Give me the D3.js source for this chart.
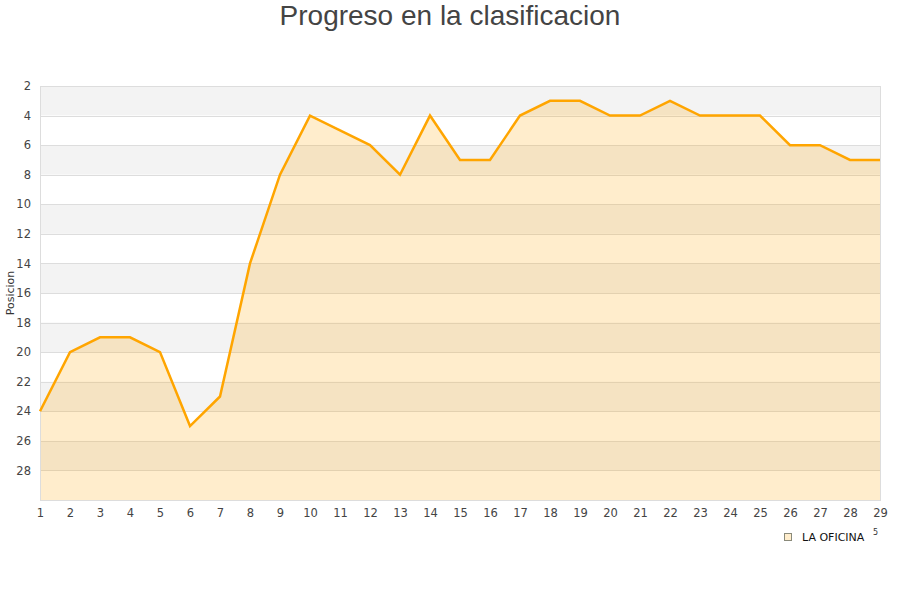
<!DOCTYPE html>
<html><head><meta charset="utf-8">
<script src="https://cdn.jsdelivr.net/npm/d3@7"></script>
<style>body{margin:0;background:#fff}svg{display:block}</style>
</head><body>
<svg id="c" width="900" height="600"></svg>
<script>
const jornadas = [1,2,3,4,5,6,7,8,9,10,11,12,13,14,15,16,17,18,19,20,21,22,23,24,25,26,27,28,29];
const posiciones = [24,20,19,19,20,25,23,14,8,4,5,6,8,4,7,7,4,3,3,4,4,3,4,4,4,6,6,7,7];
const yTicks = [2,4,6,8,10,12,14,16,18,20,22,24,26,28];
const serieNombre = "LA OFICINA";
const titulo = "Progreso en la clasificacion";
const yLabel = "Posicion";

const svg = d3.select("#c");
const m = {l:40, r:880, t:86, b:500};
const x = d3.scaleLinear().domain([1,29]).range([m.l, m.r]);
const y = d3.scaleLinear().domain([2,30]).range([m.t, m.b]);

// bands
const bandStarts = d3.range(2, 30, 2);
svg.append("g").selectAll("rect").data(bandStarts).join("rect")
  .attr("x", m.l).attr("width", m.r - m.l)
  .attr("y", d => y(d)).attr("height", d => y(d+2) - y(d))
  .attr("fill", (d,i) => i % 2 === 0 ? "#f3f3f3" : "#ffffff");

// gridlines
svg.append("g").selectAll("line").data(d3.range(2, 31, 2)).join("line")
  .attr("x1", m.l).attr("x2", m.r)
  .attr("y1", d => Math.round(y(d)) + 0.5).attr("y2", d => Math.round(y(d)) + 0.5)
  .attr("stroke", "#dddddd").attr("stroke-width", 1);

// area
const area = d3.area().x((d,i) => x(jornadas[i])).y0(y(30)).y1(d => y(d));
svg.append("path").datum(posiciones).attr("d", area)
  .attr("fill", "rgba(255,165,0,0.2)");

// border
svg.append("rect").attr("x", m.l + 0.5).attr("y", m.t + 0.5)
  .attr("width", m.r - m.l).attr("height", m.b - m.t)
  .attr("fill", "none").attr("stroke", "#dddddd");

// line
const line = d3.line().x((d,i) => x(jornadas[i])).y(d => y(d));
svg.append("path").datum(posiciones).attr("d", line)
  .attr("fill", "none").attr("stroke", "#ffa500").attr("stroke-width", 2.5)
  .attr("stroke-linejoin", "miter");

// y axis
const yAxis = d3.axisLeft(y).tickValues(yTicks).tickSize(0).tickPadding(9);
const gy = svg.append("g").attr("transform", `translate(${m.l},0)`).call(yAxis);
gy.select(".domain").remove();
gy.selectAll("text").attr("font-family", "DejaVu Sans").attr("font-size", 11.5).attr("fill", "#444");

// x axis
const xAxis = d3.axisBottom(x).tickValues(jornadas).tickSize(0).tickPadding(9).tickFormat(d3.format("d"));
const gx = svg.append("g").attr("transform", `translate(0,${m.b})`).call(xAxis);
gx.select(".domain").remove();
gx.selectAll("text").attr("font-family", "DejaVu Sans").attr("font-size", 11.5).attr("fill", "#444");

// title
svg.append("text").attr("x", 450).attr("y", 25).attr("text-anchor", "middle")
  .attr("font-family", "Liberation Sans, Arial, sans-serif").attr("font-size", 28)
  .attr("fill", "#444").text(titulo);

// y label
svg.append("text").attr("transform", "translate(14,293) rotate(-90)")
  .attr("text-anchor", "middle").attr("font-family", "DejaVu Sans").attr("font-size", 11)
  .attr("fill", "#333").text(yLabel);

// legend
svg.append("rect").attr("x", 784.5).attr("y", 533.5).attr("width", 7).attr("height", 7)
  .attr("fill", "#ffedcc").attr("stroke", "#8a8a7a");
svg.append("text").attr("x", 802).attr("y", 541).attr("font-family", "DejaVu Sans")
  .attr("font-size", 11).attr("fill", "#111").text(serieNombre);
svg.append("text").attr("x", 873).attr("y", 535).attr("font-family", "DejaVu Sans")
  .attr("font-size", 8).attr("fill", "#333").text("5");
</script>
</body></html>
